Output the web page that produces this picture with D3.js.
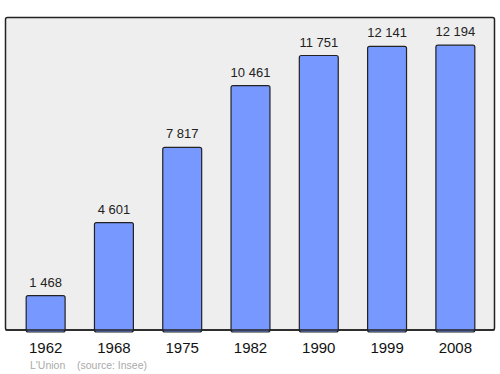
<!DOCTYPE html>
<html lang="fr">
<head>
<meta charset="UTF-8">
<script src="https://d3js.org/d3.v7.min.js"></script>
<style>body{margin:0;background:#fff}</style>
</head>
<body>
<script>
    const years = ["1962", "1968", "1975", "1982", "1990", "1999", "2008"];
    const population = [1468, 4601, 7817, 10461, 11751, 12141, 12194];
    const valueLabels = ["1 468", "4 601", "7 817", "10 461", "11 751", "12 141", "12 194"];

    const width = 500, height = 374;
    const svg = d3.select("body").append("svg")
        .attr("width", width).attr("height", height)
        .style("font-family", "'Liberation Sans', Arial, sans-serif");

    svg.append("rect")
        .attr("x", 5.5).attr("y", 17.5)
        .attr("width", 489).attr("height", 312.5)
        .attr("rx", 2)
        .attr("fill", "#eeeeee").attr("stroke", "#222").attr("stroke-width", 1.5);

    const x = d3.scaleBand().domain(years).range([11.5, 489.5]).paddingInner(0.43).paddingOuter(0.215);
    const y = d3.scaleLinear().domain([0, 13400]).range([330, 17]);

    const bars = svg.append("g").selectAll("g").data(years).join("g");

    bars.append("rect")
        .attr("x", d => x(d))
        .attr("y", (d, i) => y(population[i]))
        .attr("width", x.bandwidth())
        .attr("height", (d, i) => y(0) - y(population[i]) + 2)
        .attr("rx", 2)
        .attr("fill", "#7799ff").attr("stroke", "#222").attr("stroke-width", 1.2);

    bars.append("text")
        .attr("x", d => x(d) + x.bandwidth() / 2)
        .attr("y", (d, i) => y(population[i]) - 9)
        .attr("text-anchor", "middle")
        .attr("font-size", 13).attr("fill", "#222")
        .text((d, i) => valueLabels[i]);

    // bottom baseline
    svg.append("line")
        .attr("x1", 5.5).attr("x2", 494.5)
        .attr("y1", 330).attr("y2", 330)
        .attr("stroke", "#222").attr("stroke-width", 1.5);

    svg.append("g").selectAll("text").data(years).join("text")
        .attr("x", d => x(d) + x.bandwidth() / 2)
        .attr("y", 353)
        .attr("text-anchor", "middle")
        .attr("font-size", 15).attr("fill", "#111")
        .text(d => d);

    svg.append("text")
        .attr("x", 30).attr("y", 369)
        .attr("font-size", 10.5).attr("fill", "#aaaaaa")
        .text("L'Union");
    svg.append("text")
        .attr("x", 77).attr("y", 369)
        .attr("font-size", 10.5).attr("fill", "#aaaaaa")
        .text("(source: Insee)");
</script>
</body>
</html>
